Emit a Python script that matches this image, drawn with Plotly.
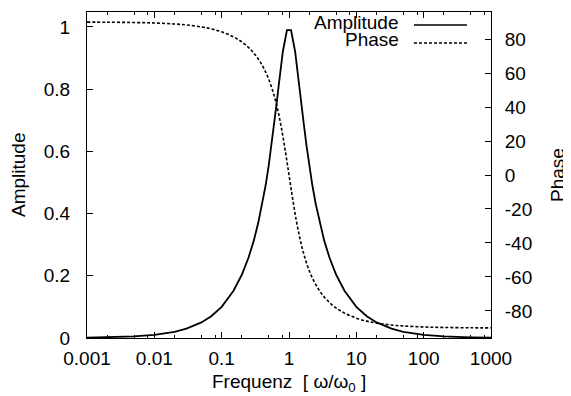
import plotly.graph_objects as go

# --- data ---
omega = [0.001, 0.002, 0.005, 0.01, 0.02, 0.03, 0.05, 0.07,
         0.1, 0.15, 0.2, 0.25, 0.3, 0.35, 0.4, 0.45, 0.5, 0.55, 0.6, 0.65, 0.7, 0.75, 0.811, 0.933,
         1.072, 1.233, 1.333, 1.429, 1.538, 1.667, 1.818, 2.0, 2.222, 2.5, 2.857, 3.333, 4.0, 5.0, 6.667, 10,
         14.29, 20, 33.33, 50, 100, 200, 500, 1000]
amplitude = [0.001, 0.002, 0.005, 0.010, 0.020, 0.030, 0.050, 0.070,
             0.100, 0.152, 0.204, 0.258, 0.313, 0.371, 0.430, 0.491, 0.555, 0.619, 0.684, 0.748, 0.808, 0.864, 0.921, 0.990,
             0.990, 0.921, 0.864, 0.808, 0.748, 0.684, 0.619, 0.555, 0.491, 0.430, 0.371, 0.313, 0.258, 0.204, 0.152, 0.100,
             0.070, 0.050, 0.030, 0.020, 0.010, 0.005, 0.002, 0.001]
phase = [89.94, 89.89, 89.71, 89.43, 88.85, 88.28, 87.13, 85.98,
         84.23, 81.28, 78.23, 75.07, 71.75, 68.25, 64.54, 60.57, 56.31, 51.74, 46.85, 41.62, 36.08, 30.26, 22.88, 7.90,
         -7.90, -22.88, -30.26, -36.08, -41.62, -46.85, -51.74, -56.31, -60.57, -64.54, -68.25, -71.75, -75.07, -78.23, -81.28, -84.23,
         -85.98, -87.13, -88.28, -88.85, -89.43, -89.71, -89.89, -89.94]

x_tickvals = [0.001, 0.01, 0.1, 1, 10, 100, 1000]
x_ticktext = ["0.001", "0.01", "0.1", "1", "10", "100", "1000"]
decades = [0.001, 0.01, 0.1, 1, 10, 100]
minor_mult = [2, 5, 8]
y_tickvals = [0, 0.2, 0.4, 0.6, 0.8, 1]
y_ticktext = ["0", "0.2", "0.4", "0.6", "0.8", "1"]
y2_tickvals = [-80, -60, -40, -20, 0, 20, 40, 60, 80]
y2_ticktext = ["-80", "-60", "-40", "-20", "0", "20", "40", "60", "80"]

series_names = ["Amplitude", "Phase"]

FONT = "Liberation Sans, Arial, sans-serif"
FS = 19

# page body has an 8px default margin: the figure is placed at (8, 8)
OFF = 8
W, H = 571 - OFF, 396 - OFF
L, R, T, B = 87 - OFF, 80, 12 - OFF, 58
PW = W - L - R
PH = H - T - B

fig = go.Figure()
fig.add_trace(go.Scatter(x=omega, y=amplitude, mode="lines", name=series_names[0],
                         line=dict(color="black", width=1.8), yaxis="y"))
fig.add_trace(go.Scatter(x=omega, y=phase, mode="lines", name=series_names[1],
                         line=dict(color="black", width=1.6, dash="3px,2px", shape="spline"),
                         yaxis="y2"))


def px_to_paper_x(px):
    # px in page pixels
    return (px - OFF - L) / PW


def px_to_paper_y(py):
    return (H - B - (py - OFF)) / PH


annotations = []
shapes = []
legend_rows = [(series_names[0], 22, "solid"), (series_names[1], 40, "3px,2px")]
for name, py, dash in legend_rows:
    annotations.append(dict(x=px_to_paper_x(401), y=px_to_paper_y(py), xref="paper", yref="paper",
                            text=name, showarrow=False, xanchor="right", yanchor="middle",
                            font=dict(family=FONT, size=FS, color="black")))
    shapes.append(dict(type="line", xref="paper", yref="paper",
                       x0=px_to_paper_x(414), x1=px_to_paper_x(467),
                       y0=px_to_paper_y(py + 3), y1=px_to_paper_y(py + 3),
                       line=dict(color="black", width=1.6, dash=dash)))

# axis titles
annotations.append(dict(x=px_to_paper_x(18), y=0.5, xref="paper", yref="paper", text="Amplitude",
                        textangle=-90, showarrow=False, xanchor="center", yanchor="middle",
                        font=dict(family=FONT, size=FS, color="black")))
annotations.append(dict(x=px_to_paper_x(557), y=0.5, xref="paper", yref="paper", text="Phase",
                        textangle=-90, showarrow=False, xanchor="center", yanchor="middle",
                        font=dict(family=FONT, size=FS, color="black")))
annotations.append(dict(x=0.5, y=px_to_paper_y(383), xref="paper", yref="paper",
                        text="Frequenz\u00a0\u00a0[\u00a0ω/ω<sub>0</sub>\u00a0]",
                        showarrow=False, xanchor="center", yanchor="middle",
                        font=dict(family=FONT, size=FS, color="black")))

fig.update_layout(
    width=W, height=H,
    margin=dict(l=L, r=R, t=T, b=B),
    paper_bgcolor="white", plot_bgcolor="white",
    showlegend=False,
    font=dict(family=FONT, size=FS, color="black"),
    xaxis=dict(type="log", range=[-3, 3], tickmode="array", tickvals=x_tickvals, ticktext=x_ticktext,
               ticks="inside", ticklen=6, tickwidth=1, tickcolor="black",
               showline=True, linecolor="black", linewidth=1, mirror="ticks",
               showgrid=False, zeroline=False, ticklabelstandoff=3,
               minor=dict(tickmode="array", tickvals=[d * m for d in decades for m in minor_mult],
                          ticks="inside", ticklen=3, tickwidth=1, tickcolor="black", showgrid=False)),
    yaxis=dict(range=[0, 1.048], tickmode="array", tickvals=y_tickvals, ticktext=y_ticktext,
               ticks="inside", ticklen=6, tickwidth=1, tickcolor="black",
               showline=True, linecolor="black", linewidth=1, mirror=True,
               showgrid=False, zeroline=False, ticklabelstandoff=12),
    yaxis2=dict(range=[-95.9, 95.9], overlaying="y", side="right", tickmode="array",
                tickvals=y2_tickvals, ticktext=y2_ticktext,
                ticks="inside", ticklen=6, tickwidth=1, tickcolor="black",
                showline=True, linecolor="black", linewidth=1,
                showgrid=False, zeroline=False, ticklabelstandoff=9),
    annotations=annotations,
    shapes=shapes,
)

fig.write_html("out.html")
